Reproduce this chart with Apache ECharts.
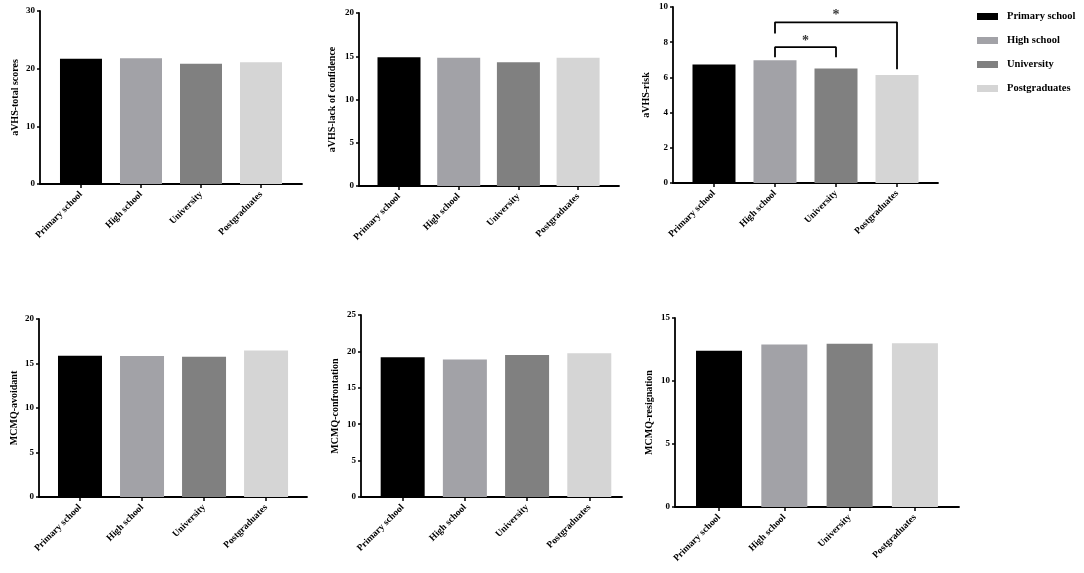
<!DOCTYPE html>
<html>
<head>
<meta charset="utf-8">
<script src="https://cdn.jsdelivr.net/npm/echarts@6/dist/echarts.min.js"></script>
<style>
  html, body { margin: 0; padding: 0; background: #fff; }
  #main { width: 1084px; height: 573px; }
</style>
</head>
<body>
<div id="main"></div>
<script>
// groups and bar values
var categories = ['Primary school', 'High school', 'University', 'Postgraduates'];
var colors = ['#000000', '#a2a2a7', '#808080', '#d5d5d5'];

var totalScores = [21.7, 21.8, 20.85, 21.1];
var lackConfidence = [14.88, 14.84, 14.3, 14.84];
var risk = [6.74, 6.97, 6.51, 6.13];
var avoidant = [15.88, 15.85, 15.77, 16.45];
var confrontation = [19.19, 18.9, 19.5, 19.74];
var resignation = [12.4, 12.9, 12.96, 12.99];

var yTitles = ['aVHS-total scores', 'aVHS-lack of confidence', 'aVHS-risk',
               'MCMQ-avoidant', 'MCMQ-confrontation', 'MCMQ-resignation'];
var yMax = [30, 20, 10, 20, 25, 15];
var yStep = [10, 5, 2, 5, 5, 5];

// significance brackets on the aVHS-risk panel (group index pairs, y values)
var sigPairs = [[1, 2], [1, 3]];
var sigTop = [7.72, 9.13];
var sigLeftEnd = [7.15, 8.5];
var sigRightEnd = [7.15, 6.47];
var sigStarY = [8.05, 9.5];

var values = [totalScores, lackConfidence, risk, avoidant, confrontation, resignation];

// panel layout: grid box, x padding (category units), bar width, name gap
var layout = [
    { left: 40,  top: 11,  width: 262, height: 173, xMin: -0.683, xMax: 3.683, bar: 42, gap: 20 },
    { left: 359, top: 13,  width: 260, height: 173, xMin: -0.67,  xMax: 3.685, bar: 43, gap: 22 },
    { left: 673, top: 7,   width: 265, height: 176, xMin: -0.672, xMax: 3.672, bar: 43, gap: 22 },
    { left: 39,  top: 319, width: 268, height: 178, xMin: -0.661, xMax: 3.66,  bar: 44, gap: 20 },
    { left: 361, top: 315, width: 261, height: 182, xMin: -0.67,  xMax: 3.526, bar: 44, gap: 21 },
    { left: 675, top: 318, width: 284, height: 189, xMin: -0.674, xMax: 3.675, bar: 46, gap: 21 }
];

var serif = 'Liberation Serif';
var grids = [], xAxes = [], yAxes = [], series = [];

for (var p = 0; p < layout.length; p++) {
    var L = layout[p];
    grids.push({ left: L.left, top: L.top, width: L.width, height: L.height });
    xAxes.push({
        type: 'value', gridIndex: p, min: L.xMin, max: L.xMax,
        splitLine: { show: false },
        axisLine: { show: true, onZero: false, lineStyle: { color: '#000', width: 1.8 } },
        axisTick: { show: true, length: 4, customValues: [0, 1, 2, 3], lineStyle: { color: '#000', width: 1.5 } },
        axisLabel: {
            customValues: [0, 1, 2, 3], rotate: 45, margin: 9,
            fontFamily: serif, fontWeight: 'bold', fontSize: 9.5, color: '#000',
            formatter: function (v) { return categories[Math.round(v)]; }
        }
    });
    yAxes.push({
        type: 'value', gridIndex: p, min: 0, max: yMax[p], interval: yStep[p],
        name: yTitles[p], nameLocation: 'middle', nameGap: L.gap, nameRotate: 90,
        nameTextStyle: { fontFamily: serif, fontWeight: 'bold', fontSize: 10, color: '#000' },
        splitLine: { show: false },
        axisLine: { show: true, onZero: false, lineStyle: { color: '#000', width: 1.8 } },
        axisTick: { show: true, length: 3, lineStyle: { color: '#000', width: 1.5 } },
        axisLabel: { margin: 5, fontFamily: serif, fontWeight: 'bold', fontSize: 9, color: '#000' }
    });
    for (var c = 0; c < categories.length; c++) {
        series.push({
            type: 'bar', name: categories[c], xAxisIndex: p, yAxisIndex: p,
            barWidth: L.bar, barGap: '-100%',
            itemStyle: { color: colors[c] },
            data: [[c, values[p][c]]]
        });
    }
}

// brackets and stars on panel 3
for (var s = 0; s < sigPairs.length; s++) {
    var a = sigPairs[s][0], b = sigPairs[s][1];
    series.push({
        type: 'line', name: 'sig' + s, xAxisIndex: 2, yAxisIndex: 2,
        symbol: 'none', silent: true,
        lineStyle: { color: '#000', width: 1.8 },
        data: [[a, sigLeftEnd[s]], [a, sigTop[s]], [b, sigTop[s]], [b, sigRightEnd[s]]]
    });
    series.push({
        type: 'scatter', name: 'star' + s, xAxisIndex: 2, yAxisIndex: 2,
        symbolSize: 1, itemStyle: { color: 'rgba(0,0,0,0)' }, silent: true,
        label: { show: true, position: 'inside', formatter: '*',
                 fontFamily: serif, fontWeight: 'bold', fontSize: 14, color: '#000' },
        data: [[(a + b) / 2, sigStarY[s]]]
    });
}

var myChart = echarts.init(document.getElementById('main'));
var option = {
    backgroundColor: '#fff',
    animation: false,
    grid: grids,
    xAxis: xAxes,
    yAxis: yAxes,
    legend: {
        data: categories, orient: 'vertical', left: 977, top: 11, padding: 0,
        icon: 'rect', itemWidth: 21, itemHeight: 7, itemGap: 13,
        textStyle: { fontFamily: serif, fontWeight: 'bold', fontSize: 10.5, color: '#000', padding: [0, 0, 0, 4] }
    },
    series: series
};
option && myChart.setOption(option);
</script>
</body>
</html>
